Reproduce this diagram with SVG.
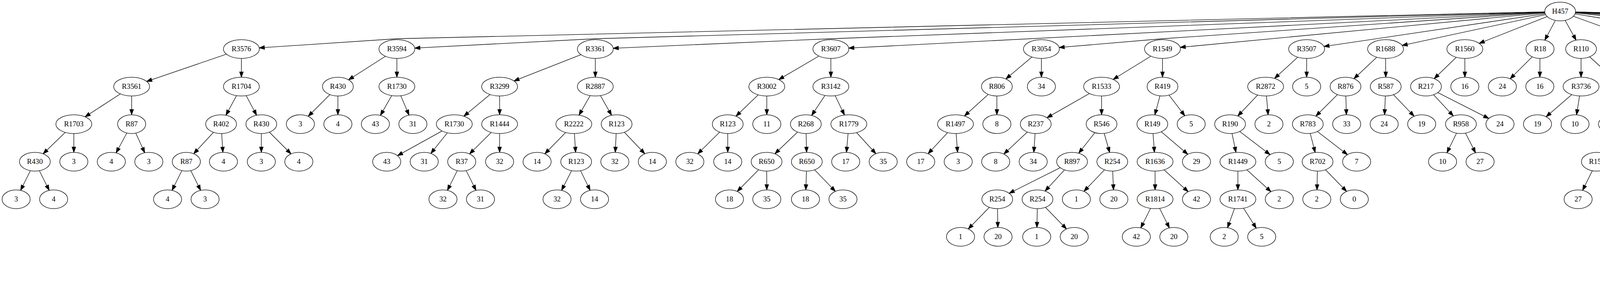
<svg xmlns="http://www.w3.org/2000/svg" width="7064" height="731" viewBox="0 0 7064 731">
<style>
.n ellipse{fill:#fff;stroke:#000;stroke-width:1.33}
.n text{font-family:"Liberation Serif","Times New Roman",serif;font-size:18.67px;text-anchor:middle;fill:#000}
.e{fill:none;stroke:#000;stroke-width:1.33;marker-end:url(#ah)}
</style>
<defs>
<marker id="ah" viewBox="-2 -7 19 14" markerWidth="19" markerHeight="14" refX="13.33" refY="0" orient="auto" markerUnits="userSpaceOnUse"><path d="M0,-4.67L13.33,0L0,4.67Z" fill="#000" stroke="#000" stroke-width="1.33"/></marker>
</defs>
<rect width="7064" height="731" fill="#fff"/>
<g id="edges">
<path class="e" d="M3994,29.3L1016,99L663.6,122.3"/>
<path class="e" d="M3994,29.3L1524,99L1061.8,122.9"/>
<path class="e" d="M3994,29.3L2127,99L1569.8,123.3"/>
<path class="e" d="M3994,29.3L2172.8,122.9"/>
<path class="e" d="M3994,29.3L2976,99L2711.4,121.4"/>
<path class="e" d="M3994,29.3L3021.3,121"/>
<path class="e" d="M3994,29.3L3389.3,118.8"/>
<path class="e" d="M3994,29.3L3589.5,116.2"/>
<path class="e" d="M3994,29.3L3786.7,110.8"/>
<path class="e" d="M3994,29.3L3954.6,102.7"/>
<path class="e" d="M3994,29.3L4034.8,102.6"/>
<path class="e" d="M3994,29.3L4221.2,111.6"/>
<path class="e" d="M3994,29.3L4537.1,118.1"/>
<path class="e" d="M3994,29.3L4919.8,120.8"/>
<path class="e" d="M3994,29.3L5277.8,122.5"/>
<path class="e" d="M3994,29.3L5317,99L5521.9,120.6"/>
<path class="e" d="M3994,29.3L5567,99L5878.5,121.9"/>
<path class="e" d="M3994,29.3L5924,99L6120,120.4"/>
<path class="e" d="M3994,29.3L6165,99L6519.4,122.3"/>
<path class="e" d="M3994,29.3L6565,99L6883.3,122.4"/>
<path class="e" d="M618,125.3L375.5,208.2"/>
<path class="e" d="M618,125.3L618,197.3"/>
<path class="e" d="M337,221.3L217.8,298.6"/>
<path class="e" d="M337,221.3L337,293.3"/>
<path class="e" d="M189,317.3L110.4,393"/>
<path class="e" d="M189,317.3L189,389.3"/>
<path class="e" d="M89.3,413.3L52.7,486.5"/>
<path class="e" d="M89.3,413.3L125.9,486.5"/>
<path class="e" d="M337,317.3L297.2,390.7"/>
<path class="e" d="M337,317.3L370.5,390.3"/>
<path class="e" d="M618,221.3L578.4,294.5"/>
<path class="e" d="M618,221.3L656.9,294.5"/>
<path class="e" d="M566,317.3L495.9,392.9"/>
<path class="e" d="M566,317.3L570.5,389.3"/>
<path class="e" d="M477,413.3L440.4,486.5"/>
<path class="e" d="M477,413.3L513.6,486.5"/>
<path class="e" d="M669,317.3L669,389.3"/>
<path class="e" d="M669,317.3L745,393.3"/>
<path class="e" d="M1016,125.3L892.3,204"/>
<path class="e" d="M1016,125.3L1016,197.3"/>
<path class="e" d="M865,221.3L789,297.3"/>
<path class="e" d="M865,221.3L865,293.3"/>
<path class="e" d="M1016,221.3L973.8,294.9"/>
<path class="e" d="M1016,221.3L1047.1,294.2"/>
<path class="e" d="M1524,125.3L1315.8,206.9"/>
<path class="e" d="M1524,125.3L1524,197.3"/>
<path class="e" d="M1279,221.3L1187.5,297"/>
<path class="e" d="M1279,221.3L1279,293.3"/>
<path class="e" d="M1163,317.3L1017.7,397.9"/>
<path class="e" d="M1163,317.3L1103,392.1"/>
<path class="e" d="M1279,317.3L1202.1,393.4"/>
<path class="e" d="M1279,317.3L1279,389.3"/>
<path class="e" d="M1182,413.3L1145.4,486.5"/>
<path class="e" d="M1182,413.3L1218.6,486.5"/>
<path class="e" d="M1524,221.3L1482.2,294.3"/>
<path class="e" d="M1524,221.3L1565.6,294.6"/>
<path class="e" d="M1469,317.3L1394.7,393.2"/>
<path class="e" d="M1469,317.3L1473.5,389.3"/>
<path class="e" d="M1475,413.3L1437.6,486.6"/>
<path class="e" d="M1475,413.3L1510.8,486.5"/>
<path class="e" d="M1578.5,317.3L1575.1,389.3"/>
<path class="e" d="M1578.5,317.3L1650.7,393"/>
<path class="e" d="M2127,125.3L1993.6,203.4"/>
<path class="e" d="M2127,125.3L2127,197.3"/>
<path class="e" d="M1963,221.3L1884.1,297"/>
<path class="e" d="M1963,221.3L1963,293.3"/>
<path class="e" d="M1863,317.3L1786.1,393.4"/>
<path class="e" d="M1863,317.3L1863,389.3"/>
<path class="e" d="M2127,221.3L2077.8,295.1"/>
<path class="e" d="M2127,221.3L2161.8,294"/>
<path class="e" d="M2063,317.3L1983.7,393.1"/>
<path class="e" d="M2063,317.3L2064.9,389.3"/>
<path class="e" d="M1962.5,413.3L1887.3,489.3"/>
<path class="e" d="M1962.5,413.3L1963,485.3"/>
<path class="e" d="M2065.5,413.3L2062.9,485.3"/>
<path class="e" d="M2065.5,413.3L2138.5,489.1"/>
<path class="e" d="M2173,317.3L2167,389.3"/>
<path class="e" d="M2173,317.3L2242.2,392.8"/>
<path class="e" d="M2666,125.3L2575.1,201.8"/>
<path class="e" d="M2666,125.3L2666,197.3"/>
<path class="e" d="M2552,221.3L2469,296.5"/>
<path class="e" d="M2552,221.3L2552,293.3"/>
<path class="e" d="M2446,317.3L2375.9,392.9"/>
<path class="e" d="M2446,317.3L2451.3,389.3"/>
<path class="e" d="M2976,125.3L2849.7,203"/>
<path class="e" d="M2976,125.3L2976,197.3"/>
<path class="e" d="M2820,221.3L2680.3,300.9"/>
<path class="e" d="M2820,221.3L2820,293.3"/>
<path class="e" d="M2651.5,317.3L2569.9,393.7"/>
<path class="e" d="M2651.5,317.3L2646.6,389.3"/>
<path class="e" d="M2820,317.3L2761.5,391.6"/>
<path class="e" d="M2820,317.3L2840.7,389.7"/>
<path class="e" d="M2744.5,413.3L2583.5,494"/>
<path class="e" d="M2744.5,413.3L2675.3,488.4"/>
<path class="e" d="M2847.5,413.3L2774.9,489.1"/>
<path class="e" d="M2847.5,413.3L2850.5,485.3"/>
<path class="e" d="M2553,509.3L2478.7,585.2"/>
<path class="e" d="M2553,509.3L2554.5,581.3"/>
<path class="e" d="M2656,509.3L2654.5,581.3"/>
<path class="e" d="M2656,509.3L2730.3,585.2"/>
<path class="e" d="M2976,221.3L2956.4,293.6"/>
<path class="e" d="M2976,221.3L3033.1,295.9"/>
<path class="e" d="M2950,317.3L2955.3,389.3"/>
<path class="e" d="M2950,317.3L3040.8,394.4"/>
<path class="e" d="M2957,413.3L2957,485.3"/>
<path class="e" d="M2957,413.3L3041.7,490"/>
<path class="e" d="M2957,509.3L2920.4,582.5"/>
<path class="e" d="M2957,509.3L2993.6,582.5"/>
<path class="e" d="M3345,125.3L3262.8,200.5"/>
<path class="e" d="M3345,125.3L3345,197.3"/>
<path class="e" d="M3240,221.3L3168.7,296.5"/>
<path class="e" d="M3240,221.3L3246.4,293.4"/>
<path class="e" d="M3149,317.3L3164,389.4"/>
<path class="e" d="M3149,317.3L3251.3,395.2"/>
<path class="e" d="M3169,413.3L3169,485.3"/>
<path class="e" d="M3169,413.3L3253.7,490"/>
<path class="e" d="M3169,509.3L3142.5,582"/>
<path class="e" d="M3169,509.3L3216,583.2"/>
<path class="e" d="M3547,125.3L3466,201.2"/>
<path class="e" d="M3547,125.3L3547.5,197.3"/>
<path class="e" d="M3444.5,221.3L3368.6,296.8"/>
<path class="e" d="M3444.5,221.3L3446.8,293.3"/>
<path class="e" d="M3348,317.3L3366.8,389.6"/>
<path class="e" d="M3348,317.3L3449.4,395.2"/>
<path class="e" d="M3373,413.3L3371.5,485.3"/>
<path class="e" d="M3373,413.3L3447.3,489.2"/>
<path class="e" d="M3547.5,221.3L3544.5,293.3"/>
<path class="e" d="M3547.5,221.3L3620.1,297.1"/>
<path class="e" d="M3750,125.3L3671.5,201"/>
<path class="e" d="M3750,125.3L3750,197.3"/>
<path class="e" d="M3650.5,221.3L3720.5,296.4"/>
<path class="e" d="M3650.5,221.3L3811.3,302.8"/>
<path class="e" d="M3740,317.3L3704.2,390.5"/>
<path class="e" d="M3740,317.3L3777.4,390.6"/>
<path class="e" d="M3942.5,125.3L3866,201.4"/>
<path class="e" d="M3942.5,125.3L3942,197.3"/>
<path class="e" d="M4047.5,125.3L4047.5,197.3"/>
<path class="e" d="M4047.5,125.3L4132.2,202"/>
<path class="e" d="M4047.5,221.3L3958.1,298.4"/>
<path class="e" d="M4047.5,221.3L4035.9,293.4"/>
<path class="e" d="M4259,125.3L4259,197.3"/>
<path class="e" d="M4259,125.3L4350.5,201"/>
<path class="e" d="M4259,221.3L4163.3,297.2"/>
<path class="e" d="M4259,221.3L4247.7,293.4"/>
<path class="e" d="M4138,317.3L4099.9,390.4"/>
<path class="e" d="M4138,317.3L4176.2,390.6"/>
<path class="e" d="M4088,413.3L4051.4,486.5"/>
<path class="e" d="M4088,413.3L4124.6,486.5"/>
<path class="e" d="M4375,221.3L4351.6,293.8"/>
<path class="e" d="M4375,221.3L4428.4,295.7"/>
<path class="e" d="M4344,317.3L4321.3,389.8"/>
<path class="e" d="M4344,317.3L4395,391.5"/>
<path class="e" d="M4581,125.3L4581,197.3"/>
<path class="e" d="M4581,125.3L4703.7,202.8"/>
<path class="e" d="M4581,221.3L4549.9,294.2"/>
<path class="e" d="M4581,221.3L4623.2,294.9"/>
<path class="e" d="M4733,221.3L4732.3,293.3"/>
<path class="e" d="M4733,221.3L4808.2,297.3"/>
<path class="e" d="M4965,125.3L4965,197.3"/>
<path class="e" d="M4965,125.3L5086.4,202.7"/>
<path class="e" d="M4965,221.3L4933.9,294.2"/>
<path class="e" d="M4965,221.3L5007.2,294.9"/>
<path class="e" d="M5115.5,221.3L5116,293.3"/>
<path class="e" d="M5115.5,221.3L5192,297.4"/>
<path class="e" d="M5317,125.3L5317,197.3"/>
<path class="e" d="M5317,125.3L5396,201.6"/>
<path class="e" d="M5317,221.3L5317,293.3"/>
<path class="e" d="M5317,221.3L5401.7,298"/>
<path class="e" d="M5317,317.3L5226.2,394.4"/>
<path class="e" d="M5317,317.3L5304.2,389.4"/>
<path class="e" d="M5567,125.3L5567,197.3"/>
<path class="e" d="M5567,125.3L5697.7,203.2"/>
<path class="e" d="M5567,221.3L5533.6,294.2"/>
<path class="e" d="M5567,221.3L5612.6,294.8"/>
<path class="e" d="M5523,317.3L5430.7,393"/>
<path class="e" d="M5523,317.3L5522.2,389.3"/>
<path class="e" d="M5406,413.3L5327.1,488.3"/>
<path class="e" d="M5406,413.3L5409.8,485.3"/>
<path class="e" d="M5305,509.3L5268.4,582.5"/>
<path class="e" d="M5305,509.3L5341.6,582.5"/>
<path class="e" d="M5522,413.3L5517.5,485.3"/>
<path class="e" d="M5522,413.3L5592.9,488.9"/>
<path class="e" d="M5626.5,317.3L5627,389.3"/>
<path class="e" d="M5626.5,317.3L5703,393.4"/>
<path class="e" d="M5728,221.3L5729.5,293.3"/>
<path class="e" d="M5728,221.3L5808.3,297.6"/>
<path class="e" d="M5729.5,317.3L5803.3,392.7"/>
<path class="e" d="M5729.5,317.3L5893.2,398.9"/>
<path class="e" d="M5823.5,413.3L5786.9,486.5"/>
<path class="e" d="M5823.5,413.3L5860.1,486.5"/>
<path class="e" d="M5924,125.3L5924,197.3"/>
<path class="e" d="M5924,125.3L6003,201.6"/>
<path class="e" d="M5924,221.3L5924,293.3"/>
<path class="e" d="M5924,221.3L6000,297.3"/>
<path class="e" d="M6165,125.3L6165,197.3"/>
<path class="e" d="M6165,125.3L6281.5,203.5"/>
<path class="e" d="M6165,221.3L6127.6,294.6"/>
<path class="e" d="M6165,221.3L6200.8,294.5"/>
<path class="e" d="M6308,221.3L6308,293.3"/>
<path class="e" d="M6308,221.3L6384,297.3"/>
<path class="e" d="M6565,125.3L6565,197.3"/>
<path class="e" d="M6565,125.3L6701.9,204.7"/>
<path class="e" d="M6565,221.3L6523.2,294.3"/>
<path class="e" d="M6565,221.3L6611.5,294.5"/>
<path class="e" d="M6510,317.3L6349,398"/>
<path class="e" d="M6510,317.3L6510,389.3"/>
<path class="e" d="M6318.5,413.3L6231.5,489.6"/>
<path class="e" d="M6318.5,413.3L6318.5,485.3"/>
<path class="e" d="M6209,509.3L6133.5,584.8"/>
<path class="e" d="M6209,509.3L6211.6,581.3"/>
<path class="e" d="M6113,605.3L6076.4,678.5"/>
<path class="e" d="M6113,605.3L6149.6,678.5"/>
<path class="e" d="M6318.5,509.3L6315.9,581.3"/>
<path class="e" d="M6318.5,509.3L6392,585.1"/>
<path class="e" d="M6510,413.3L6442.9,488.7"/>
<path class="e" d="M6510,413.3L6517.9,485.4"/>
<path class="e" d="M6626,317.3L6626,389.3"/>
<path class="e" d="M6626,317.3L6709.8,393.9"/>
<path class="e" d="M6626,413.3L6626,485.3"/>
<path class="e" d="M6626,413.3L6710.7,490"/>
<path class="e" d="M6626,509.3L6589.4,582.5"/>
<path class="e" d="M6626,509.3L6662.6,582.5"/>
<path class="e" d="M6730.5,221.3L6730.8,293.3"/>
<path class="e" d="M6730.5,221.3L6807,297.4"/>
<path class="e" d="M6922.5,125.3L6922.5,197.3"/>
<path class="e" d="M6922.5,125.3L7001.5,201.6"/>
<path class="e" d="M6922.5,221.3L6922.5,293.3"/>
<path class="e" d="M6922.5,221.3L6998.5,297.3"/>
</g>
<g id="nodes">
<g id="n0" class="n"><ellipse cx="3994" cy="29.3" rx="39.5" ry="24"/><text x="3994" y="34.9">H457</text></g>
<g id="n1" class="n"><ellipse cx="618" cy="125.3" rx="46" ry="24"/><text x="618" y="130.9">R3576</text></g>
<g id="n2" class="n"><ellipse cx="1016" cy="125.3" rx="46" ry="24"/><text x="1016" y="130.9">R3594</text></g>
<g id="n3" class="n"><ellipse cx="1524" cy="125.3" rx="46" ry="24"/><text x="1524" y="130.9">R3361</text></g>
<g id="n4" class="n"><ellipse cx="2127" cy="125.3" rx="46" ry="24"/><text x="2127" y="130.9">R3607</text></g>
<g id="n5" class="n"><ellipse cx="2666" cy="125.3" rx="46" ry="24"/><text x="2666" y="130.9">R3054</text></g>
<g id="n6" class="n"><ellipse cx="2976" cy="125.3" rx="46" ry="24"/><text x="2976" y="130.9">R1549</text></g>
<g id="n7" class="n"><ellipse cx="3345" cy="125.3" rx="46" ry="24"/><text x="3345" y="130.9">R3507</text></g>
<g id="n8" class="n"><ellipse cx="3547" cy="125.3" rx="46" ry="24"/><text x="3547" y="130.9">R1688</text></g>
<g id="n9" class="n"><ellipse cx="3750" cy="125.3" rx="46" ry="24"/><text x="3750" y="130.9">R1560</text></g>
<g id="n10" class="n"><ellipse cx="3942.5" cy="125.3" rx="36" ry="24"/><text x="3942.5" y="130.9">R18</text></g>
<g id="n11" class="n"><ellipse cx="4047.5" cy="125.3" rx="39.5" ry="24"/><text x="4047.5" y="130.9">R110</text></g>
<g id="n12" class="n"><ellipse cx="4259" cy="125.3" rx="46" ry="24"/><text x="4259" y="130.9">R3670</text></g>
<g id="n13" class="n"><ellipse cx="4581" cy="125.3" rx="46" ry="24"/><text x="4581" y="130.9">R3040</text></g>
<g id="n14" class="n"><ellipse cx="4965" cy="125.3" rx="46" ry="24"/><text x="4965" y="130.9">R3040</text></g>
<g id="n15" class="n"><ellipse cx="5317" cy="125.3" rx="39.5" ry="24"/><text x="5317" y="130.9">R323</text></g>
<g id="n16" class="n"><ellipse cx="5567" cy="125.3" rx="46" ry="24"/><text x="5567" y="130.9">R2687</text></g>
<g id="n17" class="n"><ellipse cx="5924" cy="125.3" rx="46" ry="24"/><text x="5924" y="130.9">R3246</text></g>
<g id="n18" class="n"><ellipse cx="6165" cy="125.3" rx="46" ry="24"/><text x="6165" y="130.9">R3056</text></g>
<g id="n19" class="n"><ellipse cx="6565" cy="125.3" rx="46" ry="24"/><text x="6565" y="130.9">R3642</text></g>
<g id="n20" class="n"><ellipse cx="6922.5" cy="125.3" rx="39.5" ry="24"/><text x="6922.5" y="130.9">R222</text></g>
<g id="n21" class="n"><ellipse cx="337" cy="221.3" rx="46" ry="24"/><text x="337" y="226.9">R3561</text></g>
<g id="n22" class="n"><ellipse cx="618" cy="221.3" rx="46" ry="24"/><text x="618" y="226.9">R1704</text></g>
<g id="n23" class="n"><ellipse cx="865" cy="221.3" rx="39.5" ry="24"/><text x="865" y="226.9">R430</text></g>
<g id="n24" class="n"><ellipse cx="1016" cy="221.3" rx="46" ry="24"/><text x="1016" y="226.9">R1730</text></g>
<g id="n25" class="n"><ellipse cx="1279" cy="221.3" rx="46" ry="24"/><text x="1279" y="226.9">R3299</text></g>
<g id="n26" class="n"><ellipse cx="1524" cy="221.3" rx="46" ry="24"/><text x="1524" y="226.9">R2887</text></g>
<g id="n27" class="n"><ellipse cx="1963" cy="221.3" rx="46" ry="24"/><text x="1963" y="226.9">R3002</text></g>
<g id="n28" class="n"><ellipse cx="2127" cy="221.3" rx="46" ry="24"/><text x="2127" y="226.9">R3142</text></g>
<g id="n29" class="n"><ellipse cx="2552" cy="221.3" rx="39.5" ry="24"/><text x="2552" y="226.9">R806</text></g>
<g id="n30" class="n"><ellipse cx="2666" cy="221.3" rx="36" ry="24"/><text x="2666" y="226.9">34</text></g>
<g id="n31" class="n"><ellipse cx="2820" cy="221.3" rx="46" ry="24"/><text x="2820" y="226.9">R1533</text></g>
<g id="n32" class="n"><ellipse cx="2976" cy="221.3" rx="39.5" ry="24"/><text x="2976" y="226.9">R419</text></g>
<g id="n33" class="n"><ellipse cx="3240" cy="221.3" rx="46" ry="24"/><text x="3240" y="226.9">R2872</text></g>
<g id="n34" class="n"><ellipse cx="3345" cy="221.3" rx="36" ry="24"/><text x="3345" y="226.9">5</text></g>
<g id="n35" class="n"><ellipse cx="3444.5" cy="221.3" rx="39.5" ry="24"/><text x="3444.5" y="226.9">R876</text></g>
<g id="n36" class="n"><ellipse cx="3547.5" cy="221.3" rx="39.5" ry="24"/><text x="3547.5" y="226.9">R587</text></g>
<g id="n37" class="n"><ellipse cx="3650.5" cy="221.3" rx="39.5" ry="24"/><text x="3650.5" y="226.9">R217</text></g>
<g id="n38" class="n"><ellipse cx="3750" cy="221.3" rx="36" ry="24"/><text x="3750" y="226.9">16</text></g>
<g id="n39" class="n"><ellipse cx="3846" cy="221.3" rx="36" ry="24"/><text x="3846" y="226.9">24</text></g>
<g id="n40" class="n"><ellipse cx="3942" cy="221.3" rx="36" ry="24"/><text x="3942" y="226.9">16</text></g>
<g id="n41" class="n"><ellipse cx="4047.5" cy="221.3" rx="46" ry="24"/><text x="4047.5" y="226.9">R3736</text></g>
<g id="n42" class="n"><ellipse cx="4153.5" cy="221.3" rx="36" ry="24"/><text x="4153.5" y="226.9">19</text></g>
<g id="n43" class="n"><ellipse cx="4259" cy="221.3" rx="46" ry="24"/><text x="4259" y="226.9">R1907</text></g>
<g id="n44" class="n"><ellipse cx="4375" cy="221.3" rx="46" ry="24"/><text x="4375" y="226.9">R1371</text></g>
<g id="n45" class="n"><ellipse cx="4581" cy="221.3" rx="39.5" ry="24"/><text x="4581" y="226.9">R713</text></g>
<g id="n46" class="n"><ellipse cx="4733" cy="221.3" rx="46" ry="24"/><text x="4733" y="226.9">R2774</text></g>
<g id="n47" class="n"><ellipse cx="4965" cy="221.3" rx="39.5" ry="24"/><text x="4965" y="226.9">R713</text></g>
<g id="n48" class="n"><ellipse cx="5115.5" cy="221.3" rx="46" ry="24"/><text x="5115.5" y="226.9">R2774</text></g>
<g id="n49" class="n"><ellipse cx="5317" cy="221.3" rx="39.5" ry="24"/><text x="5317" y="226.9">R396</text></g>
<g id="n50" class="n"><ellipse cx="5416.5" cy="221.3" rx="36" ry="24"/><text x="5416.5" y="226.9">36</text></g>
<g id="n51" class="n"><ellipse cx="5567" cy="221.3" rx="46" ry="24"/><text x="5567" y="226.9">R1998</text></g>
<g id="n52" class="n"><ellipse cx="5728" cy="221.3" rx="46" ry="24"/><text x="5728" y="226.9">R2592</text></g>
<g id="n53" class="n"><ellipse cx="5924" cy="221.3" rx="39.5" ry="24"/><text x="5924" y="226.9">R327</text></g>
<g id="n54" class="n"><ellipse cx="6023.5" cy="221.3" rx="36" ry="24"/><text x="6023.5" y="226.9">30</text></g>
<g id="n55" class="n"><ellipse cx="6165" cy="221.3" rx="39.5" ry="24"/><text x="6165" y="226.9">R327</text></g>
<g id="n56" class="n"><ellipse cx="6308" cy="221.3" rx="39.5" ry="24"/><text x="6308" y="226.9">R116</text></g>
<g id="n57" class="n"><ellipse cx="6565" cy="221.3" rx="46" ry="24"/><text x="6565" y="226.9">R2233</text></g>
<g id="n58" class="n"><ellipse cx="6730.5" cy="221.3" rx="39.5" ry="24"/><text x="6730.5" y="226.9">R139</text></g>
<g id="n59" class="n"><ellipse cx="6922.5" cy="221.3" rx="39.5" ry="24"/><text x="6922.5" y="226.9">R139</text></g>
<g id="n60" class="n"><ellipse cx="7022" cy="221.3" rx="36" ry="24"/><text x="7022" y="226.9">23</text></g>
<g id="n61" class="n"><ellipse cx="189" cy="317.3" rx="46" ry="24"/><text x="189" y="322.9">R1703</text></g>
<g id="n62" class="n"><ellipse cx="337" cy="317.3" rx="36" ry="24"/><text x="337" y="322.9">R87</text></g>
<g id="n63" class="n"><ellipse cx="566" cy="317.3" rx="39.5" ry="24"/><text x="566" y="322.9">R402</text></g>
<g id="n64" class="n"><ellipse cx="669" cy="317.3" rx="39.5" ry="24"/><text x="669" y="322.9">R430</text></g>
<g id="n65" class="n"><ellipse cx="769" cy="317.3" rx="36" ry="24"/><text x="769" y="322.9">3</text></g>
<g id="n66" class="n"><ellipse cx="865" cy="317.3" rx="36" ry="24"/><text x="865" y="322.9">4</text></g>
<g id="n67" class="n"><ellipse cx="961" cy="317.3" rx="36" ry="24"/><text x="961" y="322.9">43</text></g>
<g id="n68" class="n"><ellipse cx="1057" cy="317.3" rx="36" ry="24"/><text x="1057" y="322.9">31</text></g>
<g id="n69" class="n"><ellipse cx="1163" cy="317.3" rx="46" ry="24"/><text x="1163" y="322.9">R1730</text></g>
<g id="n70" class="n"><ellipse cx="1279" cy="317.3" rx="46" ry="24"/><text x="1279" y="322.9">R1444</text></g>
<g id="n71" class="n"><ellipse cx="1469" cy="317.3" rx="46" ry="24"/><text x="1469" y="322.9">R2222</text></g>
<g id="n72" class="n"><ellipse cx="1578.5" cy="317.3" rx="39.5" ry="24"/><text x="1578.5" y="322.9">R123</text></g>
<g id="n73" class="n"><ellipse cx="1863" cy="317.3" rx="39.5" ry="24"/><text x="1863" y="322.9">R123</text></g>
<g id="n74" class="n"><ellipse cx="1963" cy="317.3" rx="36" ry="24"/><text x="1963" y="322.9">11</text></g>
<g id="n75" class="n"><ellipse cx="2063" cy="317.3" rx="39.5" ry="24"/><text x="2063" y="322.9">R268</text></g>
<g id="n76" class="n"><ellipse cx="2173" cy="317.3" rx="46" ry="24"/><text x="2173" y="322.9">R1779</text></g>
<g id="n77" class="n"><ellipse cx="2446" cy="317.3" rx="46" ry="24"/><text x="2446" y="322.9">R1497</text></g>
<g id="n78" class="n"><ellipse cx="2552" cy="317.3" rx="36" ry="24"/><text x="2552" y="322.9">8</text></g>
<g id="n79" class="n"><ellipse cx="2651.5" cy="317.3" rx="39.5" ry="24"/><text x="2651.5" y="322.9">R237</text></g>
<g id="n80" class="n"><ellipse cx="2820" cy="317.3" rx="39.5" ry="24"/><text x="2820" y="322.9">R546</text></g>
<g id="n81" class="n"><ellipse cx="2950" cy="317.3" rx="39.5" ry="24"/><text x="2950" y="322.9">R149</text></g>
<g id="n82" class="n"><ellipse cx="3049.5" cy="317.3" rx="36" ry="24"/><text x="3049.5" y="322.9">5</text></g>
<g id="n83" class="n"><ellipse cx="3149" cy="317.3" rx="39.5" ry="24"/><text x="3149" y="322.9">R190</text></g>
<g id="n84" class="n"><ellipse cx="3248.5" cy="317.3" rx="36" ry="24"/><text x="3248.5" y="322.9">2</text></g>
<g id="n85" class="n"><ellipse cx="3348" cy="317.3" rx="39.5" ry="24"/><text x="3348" y="322.9">R783</text></g>
<g id="n86" class="n"><ellipse cx="3447.5" cy="317.3" rx="36" ry="24"/><text x="3447.5" y="322.9">33</text></g>
<g id="n87" class="n"><ellipse cx="3543.5" cy="317.3" rx="36" ry="24"/><text x="3543.5" y="322.9">24</text></g>
<g id="n88" class="n"><ellipse cx="3639.5" cy="317.3" rx="36" ry="24"/><text x="3639.5" y="322.9">19</text></g>
<g id="n89" class="n"><ellipse cx="3740" cy="317.3" rx="39.5" ry="24"/><text x="3740" y="322.9">R958</text></g>
<g id="n90" class="n"><ellipse cx="3840" cy="317.3" rx="36" ry="24"/><text x="3840" y="322.9">24</text></g>
<g id="n91" class="n"><ellipse cx="3936" cy="317.3" rx="36" ry="24"/><text x="3936" y="322.9">19</text></g>
<g id="n92" class="n"><ellipse cx="4032" cy="317.3" rx="36" ry="24"/><text x="4032" y="322.9">10</text></g>
<g id="n93" class="n"><ellipse cx="4138" cy="317.3" rx="46" ry="24"/><text x="4138" y="322.9">R2311</text></g>
<g id="n94" class="n"><ellipse cx="4244" cy="317.3" rx="36" ry="24"/><text x="4244" y="322.9">25</text></g>
<g id="n95" class="n"><ellipse cx="4344" cy="317.3" rx="39.5" ry="24"/><text x="4344" y="322.9">R822</text></g>
<g id="n96" class="n"><ellipse cx="4444" cy="317.3" rx="36" ry="24"/><text x="4444" y="322.9">38</text></g>
<g id="n97" class="n"><ellipse cx="4540" cy="317.3" rx="36" ry="24"/><text x="4540" y="322.9">26</text></g>
<g id="n98" class="n"><ellipse cx="4636" cy="317.3" rx="36" ry="24"/><text x="4636" y="322.9">36</text></g>
<g id="n99" class="n"><ellipse cx="4732" cy="317.3" rx="36" ry="24"/><text x="4732" y="322.9">9</text></g>
<g id="n100" class="n"><ellipse cx="4828" cy="317.3" rx="36" ry="24"/><text x="4828" y="322.9">36</text></g>
<g id="n101" class="n"><ellipse cx="4924" cy="317.3" rx="36" ry="24"/><text x="4924" y="322.9">26</text></g>
<g id="n102" class="n"><ellipse cx="5020" cy="317.3" rx="36" ry="24"/><text x="5020" y="322.9">36</text></g>
<g id="n103" class="n"><ellipse cx="5116" cy="317.3" rx="36" ry="24"/><text x="5116" y="322.9">9</text></g>
<g id="n104" class="n"><ellipse cx="5212" cy="317.3" rx="36" ry="24"/><text x="5212" y="322.9">36</text></g>
<g id="n105" class="n"><ellipse cx="5317" cy="317.3" rx="46" ry="24"/><text x="5317" y="322.9">R2774</text></g>
<g id="n106" class="n"><ellipse cx="5423" cy="317.3" rx="36" ry="24"/><text x="5423" y="322.9">15</text></g>
<g id="n107" class="n"><ellipse cx="5523" cy="317.3" rx="39.5" ry="24"/><text x="5523" y="322.9">R675</text></g>
<g id="n108" class="n"><ellipse cx="5626.5" cy="317.3" rx="39.5" ry="24"/><text x="5626.5" y="322.9">R327</text></g>
<g id="n109" class="n"><ellipse cx="5729.5" cy="317.3" rx="39.5" ry="24"/><text x="5729.5" y="322.9">R738</text></g>
<g id="n110" class="n"><ellipse cx="5829" cy="317.3" rx="36" ry="24"/><text x="5829" y="322.9">39</text></g>
<g id="n111" class="n"><ellipse cx="5924" cy="317.3" rx="36" ry="24"/><text x="5924" y="322.9">21</text></g>
<g id="n112" class="n"><ellipse cx="6020" cy="317.3" rx="36" ry="24"/><text x="6020" y="322.9">39</text></g>
<g id="n113" class="n"><ellipse cx="6116" cy="317.3" rx="36" ry="24"/><text x="6116" y="322.9">21</text></g>
<g id="n114" class="n"><ellipse cx="6212" cy="317.3" rx="36" ry="24"/><text x="6212" y="322.9">39</text></g>
<g id="n115" class="n"><ellipse cx="6308" cy="317.3" rx="36" ry="24"/><text x="6308" y="322.9">21</text></g>
<g id="n116" class="n"><ellipse cx="6404" cy="317.3" rx="36" ry="24"/><text x="6404" y="322.9">30</text></g>
<g id="n117" class="n"><ellipse cx="6510" cy="317.3" rx="46" ry="24"/><text x="6510" y="322.9">R1880</text></g>
<g id="n118" class="n"><ellipse cx="6626" cy="317.3" rx="46" ry="24"/><text x="6626" y="322.9">R2250</text></g>
<g id="n119" class="n"><ellipse cx="6731" cy="317.3" rx="36" ry="24"/><text x="6731" y="322.9">23</text></g>
<g id="n120" class="n"><ellipse cx="6827" cy="317.3" rx="36" ry="24"/><text x="6827" y="322.9">39</text></g>
<g id="n121" class="n"><ellipse cx="6922.5" cy="317.3" rx="36" ry="24"/><text x="6922.5" y="322.9">23</text></g>
<g id="n122" class="n"><ellipse cx="7018.5" cy="317.3" rx="36" ry="24"/><text x="7018.5" y="322.9">39</text></g>
<g id="n123" class="n"><ellipse cx="89.3" cy="413.3" rx="39.5" ry="24"/><text x="89.3" y="418.9">R430</text></g>
<g id="n124" class="n"><ellipse cx="189" cy="413.3" rx="36" ry="24"/><text x="189" y="418.9">3</text></g>
<g id="n125" class="n"><ellipse cx="285" cy="413.3" rx="36" ry="24"/><text x="285" y="418.9">4</text></g>
<g id="n126" class="n"><ellipse cx="381" cy="413.3" rx="36" ry="24"/><text x="381" y="418.9">3</text></g>
<g id="n127" class="n"><ellipse cx="477" cy="413.3" rx="36" ry="24"/><text x="477" y="418.9">R87</text></g>
<g id="n128" class="n"><ellipse cx="572" cy="413.3" rx="36" ry="24"/><text x="572" y="418.9">4</text></g>
<g id="n129" class="n"><ellipse cx="669" cy="413.3" rx="36" ry="24"/><text x="669" y="418.9">3</text></g>
<g id="n130" class="n"><ellipse cx="765" cy="413.3" rx="36" ry="24"/><text x="765" y="418.9">4</text></g>
<g id="n131" class="n"><ellipse cx="990" cy="413.3" rx="36" ry="24"/><text x="990" y="418.9">43</text></g>
<g id="n132" class="n"><ellipse cx="1086" cy="413.3" rx="36" ry="24"/><text x="1086" y="418.9">31</text></g>
<g id="n133" class="n"><ellipse cx="1182" cy="413.3" rx="36" ry="24"/><text x="1182" y="418.9">R37</text></g>
<g id="n134" class="n"><ellipse cx="1279" cy="413.3" rx="36" ry="24"/><text x="1279" y="418.9">32</text></g>
<g id="n135" class="n"><ellipse cx="1375" cy="413.3" rx="36" ry="24"/><text x="1375" y="418.9">14</text></g>
<g id="n136" class="n"><ellipse cx="1475" cy="413.3" rx="39.5" ry="24"/><text x="1475" y="418.9">R123</text></g>
<g id="n137" class="n"><ellipse cx="1574" cy="413.3" rx="36" ry="24"/><text x="1574" y="418.9">32</text></g>
<g id="n138" class="n"><ellipse cx="1670" cy="413.3" rx="36" ry="24"/><text x="1670" y="418.9">14</text></g>
<g id="n139" class="n"><ellipse cx="1766" cy="413.3" rx="36" ry="24"/><text x="1766" y="418.9">32</text></g>
<g id="n140" class="n"><ellipse cx="1863" cy="413.3" rx="36" ry="24"/><text x="1863" y="418.9">14</text></g>
<g id="n141" class="n"><ellipse cx="1962.5" cy="413.3" rx="39.5" ry="24"/><text x="1962.5" y="418.9">R650</text></g>
<g id="n142" class="n"><ellipse cx="2065.5" cy="413.3" rx="39.5" ry="24"/><text x="2065.5" y="418.9">R650</text></g>
<g id="n143" class="n"><ellipse cx="2165" cy="413.3" rx="36" ry="24"/><text x="2165" y="418.9">17</text></g>
<g id="n144" class="n"><ellipse cx="2261" cy="413.3" rx="36" ry="24"/><text x="2261" y="418.9">35</text></g>
<g id="n145" class="n"><ellipse cx="2357" cy="413.3" rx="36" ry="24"/><text x="2357" y="418.9">17</text></g>
<g id="n146" class="n"><ellipse cx="2453" cy="413.3" rx="36" ry="24"/><text x="2453" y="418.9">3</text></g>
<g id="n147" class="n"><ellipse cx="2549" cy="413.3" rx="36" ry="24"/><text x="2549" y="418.9">8</text></g>
<g id="n148" class="n"><ellipse cx="2645" cy="413.3" rx="36" ry="24"/><text x="2645" y="418.9">34</text></g>
<g id="n149" class="n"><ellipse cx="2744.5" cy="413.3" rx="39.5" ry="24"/><text x="2744.5" y="418.9">R897</text></g>
<g id="n150" class="n"><ellipse cx="2847.5" cy="413.3" rx="39.5" ry="24"/><text x="2847.5" y="418.9">R254</text></g>
<g id="n151" class="n"><ellipse cx="2957" cy="413.3" rx="46" ry="24"/><text x="2957" y="418.9">R1636</text></g>
<g id="n152" class="n"><ellipse cx="3063" cy="413.3" rx="36" ry="24"/><text x="3063" y="418.9">29</text></g>
<g id="n153" class="n"><ellipse cx="3169" cy="413.3" rx="46" ry="24"/><text x="3169" y="418.9">R1449</text></g>
<g id="n154" class="n"><ellipse cx="3275" cy="413.3" rx="36" ry="24"/><text x="3275" y="418.9">5</text></g>
<g id="n155" class="n"><ellipse cx="3373" cy="413.3" rx="39.5" ry="24"/><text x="3373" y="418.9">R702</text></g>
<g id="n156" class="n"><ellipse cx="3473" cy="413.3" rx="36" ry="24"/><text x="3473" y="418.9">7</text></g>
<g id="n157" class="n"><ellipse cx="3693" cy="413.3" rx="36" ry="24"/><text x="3693" y="418.9">10</text></g>
<g id="n158" class="n"><ellipse cx="3789" cy="413.3" rx="36" ry="24"/><text x="3789" y="418.9">27</text></g>
<g id="n159" class="n"><ellipse cx="4088" cy="413.3" rx="39.5" ry="24"/><text x="4088" y="418.9">R154</text></g>
<g id="n160" class="n"><ellipse cx="4188" cy="413.3" rx="36" ry="24"/><text x="4188" y="418.9">6</text></g>
<g id="n161" class="n"><ellipse cx="4314" cy="413.3" rx="36" ry="24"/><text x="4314" y="418.9">6</text></g>
<g id="n162" class="n"><ellipse cx="4410" cy="413.3" rx="36" ry="24"/><text x="4410" y="418.9">25</text></g>
<g id="n163" class="n"><ellipse cx="5204" cy="413.3" rx="36" ry="24"/><text x="5204" y="418.9">9</text></g>
<g id="n164" class="n"><ellipse cx="5300" cy="413.3" rx="36" ry="24"/><text x="5300" y="418.9">36</text></g>
<g id="n165" class="n"><ellipse cx="5406" cy="413.3" rx="46" ry="24"/><text x="5406" y="418.9">R2686</text></g>
<g id="n166" class="n"><ellipse cx="5522" cy="413.3" rx="46" ry="24"/><text x="5522" y="418.9">R1121</text></g>
<g id="n167" class="n"><ellipse cx="5627" cy="413.3" rx="36" ry="24"/><text x="5627" y="418.9">21</text></g>
<g id="n168" class="n"><ellipse cx="5723" cy="413.3" rx="36" ry="24"/><text x="5723" y="418.9">39</text></g>
<g id="n169" class="n"><ellipse cx="5823.5" cy="413.3" rx="39.5" ry="24"/><text x="5823.5" y="418.9">R116</text></g>
<g id="n170" class="n"><ellipse cx="5922" cy="413.3" rx="36" ry="24"/><text x="5922" y="418.9">21</text></g>
<g id="n171" class="n"><ellipse cx="6318.5" cy="413.3" rx="39.5" ry="24"/><text x="6318.5" y="418.9">R456</text></g>
<g id="n172" class="n"><ellipse cx="6510" cy="413.3" rx="46" ry="24"/><text x="6510" y="418.9">R2072</text></g>
<g id="n173" class="n"><ellipse cx="6626" cy="413.3" rx="46" ry="24"/><text x="6626" y="418.9">R2186</text></g>
<g id="n174" class="n"><ellipse cx="6731" cy="413.3" rx="36" ry="24"/><text x="6731" y="418.9">39</text></g>
<g id="n175" class="n"><ellipse cx="41.3" cy="509.3" rx="36" ry="24"/><text x="41.3" y="514.9">3</text></g>
<g id="n176" class="n"><ellipse cx="137.3" cy="509.3" rx="36" ry="24"/><text x="137.3" y="514.9">4</text></g>
<g id="n177" class="n"><ellipse cx="429" cy="509.3" rx="36" ry="24"/><text x="429" y="514.9">4</text></g>
<g id="n178" class="n"><ellipse cx="525" cy="509.3" rx="36" ry="24"/><text x="525" y="514.9">3</text></g>
<g id="n179" class="n"><ellipse cx="1134" cy="509.3" rx="36" ry="24"/><text x="1134" y="514.9">32</text></g>
<g id="n180" class="n"><ellipse cx="1230" cy="509.3" rx="36" ry="24"/><text x="1230" y="514.9">31</text></g>
<g id="n181" class="n"><ellipse cx="1426" cy="509.3" rx="36" ry="24"/><text x="1426" y="514.9">32</text></g>
<g id="n182" class="n"><ellipse cx="1522" cy="509.3" rx="36" ry="24"/><text x="1522" y="514.9">14</text></g>
<g id="n183" class="n"><ellipse cx="1867.5" cy="509.3" rx="36" ry="24"/><text x="1867.5" y="514.9">18</text></g>
<g id="n184" class="n"><ellipse cx="1963" cy="509.3" rx="36" ry="24"/><text x="1963" y="514.9">35</text></g>
<g id="n185" class="n"><ellipse cx="2062" cy="509.3" rx="36" ry="24"/><text x="2062" y="514.9">18</text></g>
<g id="n186" class="n"><ellipse cx="2158" cy="509.3" rx="36" ry="24"/><text x="2158" y="514.9">35</text></g>
<g id="n187" class="n"><ellipse cx="2553" cy="509.3" rx="39.5" ry="24"/><text x="2553" y="514.9">R254</text></g>
<g id="n188" class="n"><ellipse cx="2656" cy="509.3" rx="39.5" ry="24"/><text x="2656" y="514.9">R254</text></g>
<g id="n189" class="n"><ellipse cx="2755.5" cy="509.3" rx="36" ry="24"/><text x="2755.5" y="514.9">1</text></g>
<g id="n190" class="n"><ellipse cx="2851.5" cy="509.3" rx="36" ry="24"/><text x="2851.5" y="514.9">20</text></g>
<g id="n191" class="n"><ellipse cx="2957" cy="509.3" rx="46" ry="24"/><text x="2957" y="514.9">R1814</text></g>
<g id="n192" class="n"><ellipse cx="3063" cy="509.3" rx="36" ry="24"/><text x="3063" y="514.9">42</text></g>
<g id="n193" class="n"><ellipse cx="3169" cy="509.3" rx="46" ry="24"/><text x="3169" y="514.9">R1741</text></g>
<g id="n194" class="n"><ellipse cx="3275" cy="509.3" rx="36" ry="24"/><text x="3275" y="514.9">2</text></g>
<g id="n195" class="n"><ellipse cx="3371" cy="509.3" rx="36" ry="24"/><text x="3371" y="514.9">2</text></g>
<g id="n196" class="n"><ellipse cx="3467" cy="509.3" rx="36" ry="24"/><text x="3467" y="514.9">0</text></g>
<g id="n197" class="n"><ellipse cx="4040" cy="509.3" rx="36" ry="24"/><text x="4040" y="514.9">27</text></g>
<g id="n198" class="n"><ellipse cx="4136" cy="509.3" rx="36" ry="24"/><text x="4136" y="514.9">16</text></g>
<g id="n199" class="n"><ellipse cx="5305" cy="509.3" rx="46" ry="24"/><text x="5305" y="514.9">R1540</text></g>
<g id="n200" class="n"><ellipse cx="5411" cy="509.3" rx="36" ry="24"/><text x="5411" y="514.9">37</text></g>
<g id="n201" class="n"><ellipse cx="5516" cy="509.3" rx="36" ry="24"/><text x="5516" y="514.9">41</text></g>
<g id="n202" class="n"><ellipse cx="5612" cy="509.3" rx="36" ry="24"/><text x="5612" y="514.9">40</text></g>
<g id="n203" class="n"><ellipse cx="5775.5" cy="509.3" rx="36" ry="24"/><text x="5775.5" y="514.9">21</text></g>
<g id="n204" class="n"><ellipse cx="5871.5" cy="509.3" rx="36" ry="24"/><text x="5871.5" y="514.9">30</text></g>
<g id="n205" class="n"><ellipse cx="6209" cy="509.3" rx="39.5" ry="24"/><text x="6209" y="514.9">R737</text></g>
<g id="n206" class="n"><ellipse cx="6318.5" cy="509.3" rx="46" ry="24"/><text x="6318.5" y="514.9">R2072</text></g>
<g id="n207" class="n"><ellipse cx="6424.5" cy="509.3" rx="36" ry="24"/><text x="6424.5" y="514.9">30</text></g>
<g id="n208" class="n"><ellipse cx="6520.5" cy="509.3" rx="36" ry="24"/><text x="6520.5" y="514.9">39</text></g>
<g id="n209" class="n"><ellipse cx="6626" cy="509.3" rx="46" ry="24"/><text x="6626" y="514.9">R2072</text></g>
<g id="n210" class="n"><ellipse cx="6732" cy="509.3" rx="36" ry="24"/><text x="6732" y="514.9">30</text></g>
<g id="n211" class="n"><ellipse cx="2459" cy="605.3" rx="36" ry="24"/><text x="2459" y="610.9">1</text></g>
<g id="n212" class="n"><ellipse cx="2555" cy="605.3" rx="36" ry="24"/><text x="2555" y="610.9">20</text></g>
<g id="n213" class="n"><ellipse cx="2654" cy="605.3" rx="36" ry="24"/><text x="2654" y="610.9">1</text></g>
<g id="n214" class="n"><ellipse cx="2750" cy="605.3" rx="36" ry="24"/><text x="2750" y="610.9">20</text></g>
<g id="n215" class="n"><ellipse cx="2909" cy="605.3" rx="36" ry="24"/><text x="2909" y="610.9">42</text></g>
<g id="n216" class="n"><ellipse cx="3005" cy="605.3" rx="36" ry="24"/><text x="3005" y="610.9">20</text></g>
<g id="n217" class="n"><ellipse cx="3134" cy="605.3" rx="36" ry="24"/><text x="3134" y="610.9">2</text></g>
<g id="n218" class="n"><ellipse cx="3230" cy="605.3" rx="36" ry="24"/><text x="3230" y="610.9">5</text></g>
<g id="n219" class="n"><ellipse cx="5257" cy="605.3" rx="36" ry="24"/><text x="5257" y="610.9">37</text></g>
<g id="n220" class="n"><ellipse cx="5353" cy="605.3" rx="36" ry="24"/><text x="5353" y="610.9">41</text></g>
<g id="n221" class="n"><ellipse cx="6113" cy="605.3" rx="39.5" ry="24"/><text x="6113" y="610.9">R116</text></g>
<g id="n222" class="n"><ellipse cx="6212.5" cy="605.3" rx="36" ry="24"/><text x="6212.5" y="610.9">39</text></g>
<g id="n223" class="n"><ellipse cx="6315" cy="605.3" rx="36" ry="24"/><text x="6315" y="610.9">30</text></g>
<g id="n224" class="n"><ellipse cx="6411.5" cy="605.3" rx="36" ry="24"/><text x="6411.5" y="610.9">39</text></g>
<g id="n225" class="n"><ellipse cx="6578" cy="605.3" rx="36" ry="24"/><text x="6578" y="610.9">30</text></g>
<g id="n226" class="n"><ellipse cx="6674" cy="605.3" rx="36" ry="24"/><text x="6674" y="610.9">39</text></g>
<g id="n227" class="n"><ellipse cx="6065" cy="701.3" rx="36" ry="24"/><text x="6065" y="706.9">21</text></g>
<g id="n228" class="n"><ellipse cx="6161" cy="701.3" rx="36" ry="24"/><text x="6161" y="706.9">30</text></g>
</g>
</svg>
